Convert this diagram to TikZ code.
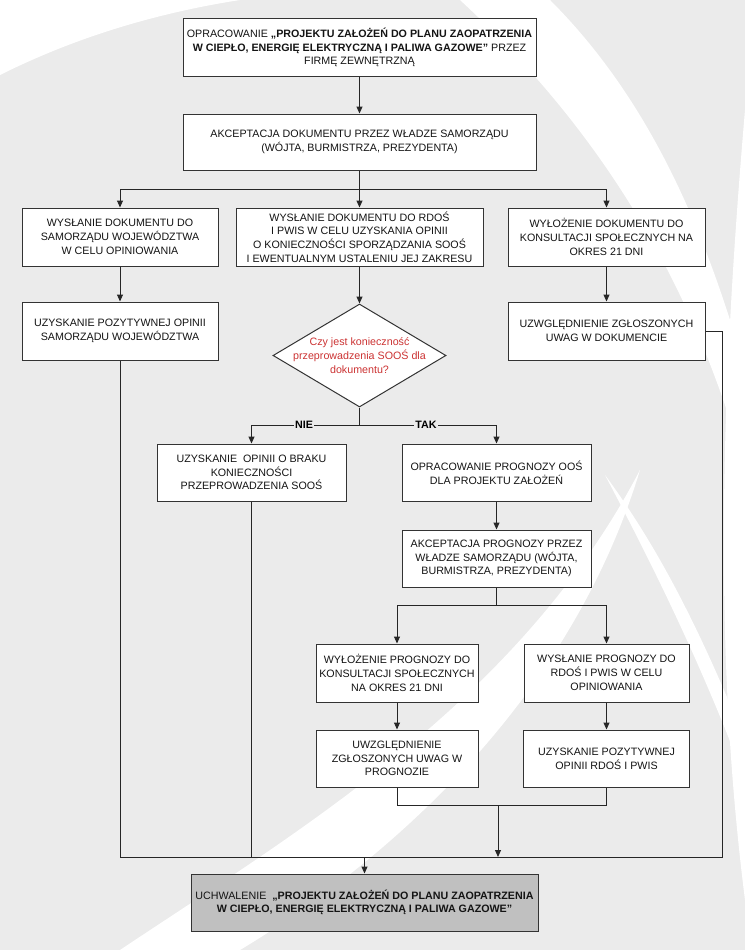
\documentclass[tikz,border=0pt]{standalone}
\usepackage{fontspec}
\setmainfont{Liberation Sans}
\usetikzlibrary{arrows.meta,shapes.geometric}
\definecolor{tlo}{HTML}{EBEBEB}
\definecolor{ramka}{HTML}{333333}
\definecolor{pytanie}{HTML}{CC3333}
\definecolor{szary}{HTML}{C0C0C0}

\begin{document}
\begin{tikzpicture}[x=1pt,y=-1pt,
    box/.style={draw=ramka,fill=white,line width=1pt,align=center,inner sep=1pt,text=black!92,
      font=\fontsize{10.7}{13.7}\selectfont},
    decision/.style={draw=ramka,fill=white,line width=1pt,diamond,inner sep=0pt},
    qtext/.style={align=center,inner sep=0pt,text=pytanie,font=\fontsize{10.7}{13.7}\selectfont},
    lbl/.style={fill=tlo,inner sep=1pt,font=\fontsize{10.7}{12}\selectfont\bfseries},
    ln/.style={line width=1pt,black!85},
    arr/.style={ln,-{Triangle[length=7pt,width=6pt]}}]
    % tlo
    \useasboundingbox (0,0) rectangle (745,950);
    \fill[tlo] (0,0) rectangle (745,950);
    \fill[white] (0,0) -- (240,0) .. controls (150,14) and (70,40) .. (0,75) -- cycle;
    \fill[white] (460,0) .. controls (590,120) and (690,270) .. (745,470) -- (745,370) .. controls (700,210) and (640,90) .. (550,0) -- cycle;
    \fill[white] (745,110) .. controls (722,380) and (712,640) .. (745,900) -- cycle;
    \fill[white] (120,950) .. controls (300,830) and (520,700) .. (640,470) .. controls (570,700) and (390,860) .. (240,950) -- cycle;
    \fill[white] (605,475) .. controls (650,560) and (700,660) .. (745,780) -- (745,740) .. controls (700,630) and (660,550) .. (605,475) -- cycle;

    % bloki
    \node[box,minimum width=353pt,minimum height=57pt] (top) at (359.5,47.5)
      {OPRACOWANIE {\bfseries „PROJEKTU ZAŁOŻEŃ DO PLANU ZAOPATRZENIA}\\{\bfseries W CIEPŁO, ENERGIĘ ELEKTRYCZNĄ I PALIWA GAZOWE”} PRZEZ\\FIRMĘ ZEWNĘTRZNĄ};
    \node[box,minimum width=353pt,minimum height=56pt] (akc) at (359.5,142)
      {AKCEPTACJA DOKUMENTU PRZEZ WŁADZE SAMORZĄDU\\(WÓJTA, BURMISTRZA, PREZYDENTA)};
    \node[box,minimum width=196pt,minimum height=58pt] (A) at (120,237)
      {WYSŁANIE DOKUMENTU DO\\SAMORZĄDU WOJEWÓDZTWA\\W CELU OPINIOWANIA};
    \node[box,minimum width=247pt,minimum height=58pt] (B) at (359.5,237)
      {WYSŁANIE DOKUMENTU DO RDOŚ\\I PWIS W CELU UZYSKANIA OPINII\\O KONIECZNOŚCI SPORZĄDZANIA SOOŚ\\I EWENTUALNYM USTALENIU JEJ ZAKRESU};
    \node[box,minimum width=197pt,minimum height=58pt] (C) at (606.5,237)
      {WYŁOŻENIE DOKUMENTU DO\\KONSULTACJI SPOŁECZNYCH NA\\OKRES 21 DNI};
    \node[box,minimum width=196pt,minimum height=58pt] (D) at (120,331)
      {UZYSKANIE POZYTYWNEJ OPINII\\SAMORZĄDU WOJEWÓDZTWA};
    \node[box,minimum width=197pt,minimum height=58pt] (E) at (606.5,331)
      {UZWGLĘDNIENIE ZGŁOSZONYCH\\UWAG W DOKUMENCIE};
    \node[decision,minimum width=173pt,minimum height=103pt] (q) at (359.5,355.5) {};
    \node[qtext] (qt) at (q.center) {Czy jest konieczność\\przeprowadzenia SOOŚ dla\\dokumentu?};
    \node[box,minimum width=189pt,minimum height=57pt] (F) at (251.5,472.5)
      {UZYSKANIE\ \ OPINII O BRAKU\\KONIECZNOŚCI\\PRZEPROWADZENIA SOOŚ};
    \node[box,minimum width=189pt,minimum height=57pt] (G) at (496.5,472.5)
      {OPRACOWANIE PROGNOZY OOŚ\\DLA PROJEKTU ZAŁOŻEŃ};
    \node[box,minimum width=189pt,minimum height=57pt] (H) at (496.5,558.5)
      {AKCEPTACJA PROGNOZY PRZEZ\\WŁADZE SAMORZĄDU (WÓJTA,\\BURMISTRZA, PREZYDENTA)};
    \node[box,minimum width=162pt,minimum height=58pt] (I) at (397,673)
      {WYŁOŻENIE PROGNOZY DO\\KONSULTACJI SPOŁECZNYCH\\NA OKRES 21 DNI};
    \node[box,minimum width=165pt,minimum height=58pt] (J) at (606.5,673)
      {WYSŁANIE PROGNOZY DO\\RDOŚ I PWIS W CELU\\OPINIOWANIA};
    \node[box,minimum width=162pt,minimum height=57pt] (K) at (397,758.5)
      {UWZGLĘDNIENIE\\ZGŁOSZONYCH UWAG W\\PROGNOZIE};
    \node[box,minimum width=166pt,minimum height=57pt] (L) at (606.5,758.5)
      {UZYSKANIE POZYTYWNEJ\\OPINII RDOŚ I PWIS};
    \node[box,fill=szary,minimum width=347pt,minimum height=57pt] (fin) at (364.5,902.5)
      {UCHWALENIE\ \ {\bfseries „PROJEKTU ZAŁOŻEŃ DO PLANU ZAOPATRZENIA}\\{\bfseries W CIEPŁO, ENERGIĘ ELEKTRYCZNĄ I PALIWA GAZOWE”}};

    % polaczenia
    \coordinate (r1) at (359.5,189);
    \coordinate (r2) at (359.5,425);
    \coordinate (r3) at (496.5,605);
    \coordinate (m1) at (498,805);
    \coordinate (zb) at (722,857);
    \draw[arr] (top) -- (akc);
    \draw[arr] (akc) -- (B);
    \draw[arr] (r1) -| (A.north);
    \draw[arr] (r1) -| (C.north);
    \draw[arr] (A) -- (D);
    \draw[arr] (C) -- (E);
    \draw[arr] (B) -- (q.north);
    \draw[ln] (q.south) -- (r2);
    \draw[arr] (r2) -| (F.north);
    \draw[arr] (r2) -| (G.north);
    \node[lbl] (nie) at (304,425) {NIE};
    \node[lbl] (tak) at (426,425) {TAK};
    \draw[arr] (G) -- (H);
    \draw[ln] (H.south) -- (r3);
    \draw[arr] (r3) -| (I.north);
    \draw[arr] (r3) -| (J.north);
    \draw[arr] (I) -- (K);
    \draw[arr] (J) -- (L);
    \draw[ln] (K.south) |- (m1) -| (L.south);
    \draw[arr] (m1) -- (m1 |- zb);
    \draw[ln] (D.south) |- (zb) |- (E.east);
    \draw[ln] (F.south) -- (F.south |- zb);
    \draw[arr] (fin.north |- zb) -- (fin.north);
\end{tikzpicture}
\end{document}
